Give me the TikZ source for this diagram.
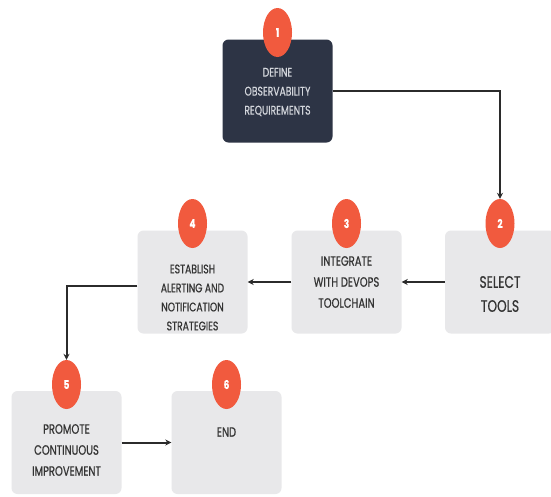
\documentclass[tikz,border=0pt]{standalone}
\usepackage{fontspec}
\setmainfont{Poppins}[FakeStretch=0.74,FakeBold=0.6]
\usetikzlibrary{shapes.geometric,arrows.meta}
\definecolor{boxgrey}{HTML}{E8E8EA}
\definecolor{darkbox}{HTML}{2D3445}
\definecolor{badge}{HTML}{F15A3E}
\definecolor{txtdark}{HTML}{333333}
\definecolor{txtlight}{HTML}{D3D6DC}
\definecolor{arrowc}{HTML}{2B2B2B}
\begin{document}
\begin{tikzpicture}[x=1pt,y=-1pt,
  stepbox/.style={rounded corners=6pt, fill=boxgrey, minimum width=110pt, minimum height=103pt, inner sep=0pt},
  darkstep/.style={stepbox, fill=darkbox},
  numbadge/.style={ellipse, fill=badge, minimum width=29pt, minimum height=49pt, inner sep=0pt, text=white, font=\fontsize{12}{12}\selectfont\bfseries},
  steptext/.style={align=center, text=txtdark, font=\fontsize{13.5}{21}\selectfont},
  arr/.style={draw=arrowc, line width=2pt, -{Stealth[length=6pt,width=6pt]}}
]
\clip (0,0) rectangle (551,496);
\fill[white] (0,0) rectangle (551,496);
% boxes
\node[darkstep] (b1) at (277.5,91) {};
\node[stepbox] (b2) at (500,282) {};
\node[stepbox] (b3) at (346.5,282) {};
\node[stepbox] (b4) at (192.5,282) {};
\node[stepbox] (b5) at (66.5,442.5) {};
\node[stepbox] (b6) at (226.5,442.5) {};
% badges
\node[numbadge] (g1) at (277.5,32.5) {1};
\node[numbadge] (g2) at (500,223.5) {2};
\node[numbadge] (g3) at (346.5,223.5) {3};
\node[numbadge] (g4) at (192.5,223.5) {4};
\node[numbadge] (g5) at (66.5,384.5) {5};
\node[numbadge] (g6) at (226.5,384.5) {6};
% texts
\node[steptext, text=txtlight, font=\fontsize{12.5}{19}\selectfont] (t1) at (277.5,92) {DEFINE\\OBSERVABILITY\\REQUIREMENTS};
\node[steptext, font=\fontsize{16.5}{24}\selectfont] (t2) at (500,294) {SELECT\\TOOLS};
\node[steptext] (t3) at (346.5,282) {INTEGRATE\\WITH DEVOPS\\TOOLCHAIN};
\node[steptext, font=\fontsize{12.5}{19}\selectfont] (t4) at (192.5,297.5) {ESTABLISH\\ALERTING AND\\NOTIFICATION\\STRATEGIES};
\node[steptext] (t5) at (66.5,450) {PROMOTE\\CONTINUOUS\\IMPROVEMENT};
\node[steptext] (t6) at (226.5,432) {END};
% connectors
\draw[arr] (b1.east) -| (g2.north);
\draw[arr] (b2.west) -- (b3.east);
\draw[arr] (b3.west) -- (b4.east);
\draw[arr] ([yshift=-4pt]b4.west) -| (g5.north);
\draw[arr] (b5.east) -- (b6.west);
\end{tikzpicture}
\end{document}
